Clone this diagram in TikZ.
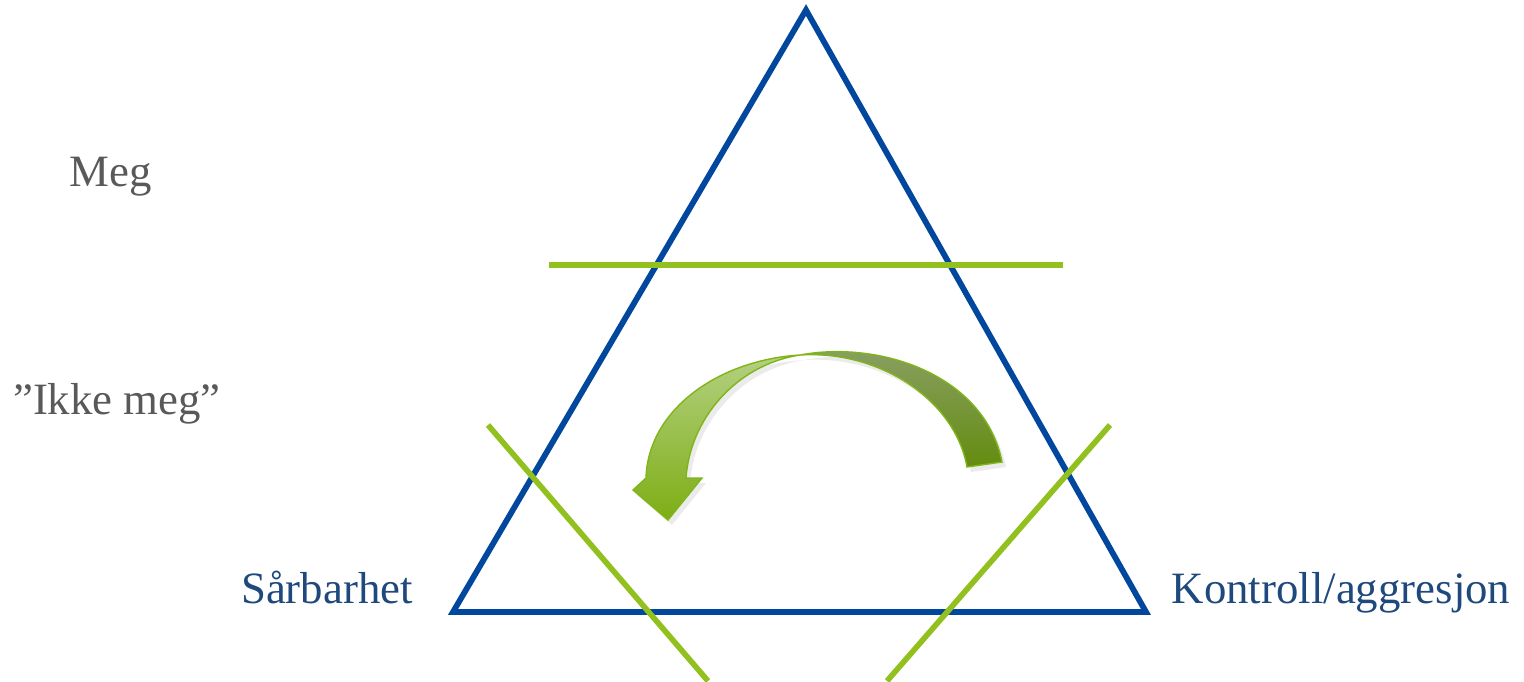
\documentclass[tikz,border=0pt]{standalone}
\usepackage{xcolor}
\usepackage{fontspec}
\setmainfont{Liberation Serif}
\usepackage{tikz}
\usetikzlibrary{calc}

\definecolor{triblue}{RGB}{0,71,157}
\definecolor{lingreen}{RGB}{146,192,31}
\definecolor{txtgrey}{RGB}{89,89,89}
\definecolor{txtblue}{RGB}{31,73,125}

\tikzset{
  side/.style={line width=3.3pt, triblue},
  cut/.style={line width=3.2pt, lingreen},
  lbl/.style={anchor=base, inner sep=0pt, font=\fontsize{25.5}{30}\selectfont},
}

\begin{document}
\begin{tikzpicture}[x=0.02cm, y=-0.02cm]
    \useasboundingbox (0,0) rectangle (1524,681);
    % triangle
    \coordinate (top) at (806,10);
    \coordinate (bl) at (453,612);
    \coordinate (br) at (1146,612);
    \draw[side, line join=miter] (bl) -- (top) -- (br) -- cycle;
    % green cuts
    \coordinate (h1) at (549,265);
    \coordinate (h2) at (1063,265);
    \coordinate (l1) at (488,425);
    \coordinate (l2) at (708,681);
    \coordinate (r1) at (1110,425);
    \coordinate (r2) at (887,681);
    \draw[cut] (h1) -- (h2);
    \draw[cut] (l1) -- (l2);
    \draw[cut] (r1) -- (r2);
    % curved arrow
    \fill[black, opacity=0.08] (804,360) .. controls (884,345) and (989,380) .. (1006,467) -- (971,472)
        .. controls (959,405) and (884,355) .. (804,360) -- cycle;
    \fill[black, opacity=0.08] (804,360) .. controls (722,365) and (652,415) .. (650,483) -- (637,495)
        -- (672,525) -- (706,483) -- (690,483) .. controls (694,425) and (739,370) .. (804,360) -- cycle;
    \shade[top color={rgb,255:red,140;green,160;blue,105}, bottom color={rgb,255:red,100;green,140;blue,15},
           draw={rgb,255:red,127;green,181;blue,27}, line width=0.8pt]
        (800,355) .. controls (880,340) and (985,375) .. (1002,462) -- (967,467)
        .. controls (955,400) and (880,350) .. (800,355) -- cycle;
    \shade[top color={rgb,255:red,180;green,208;blue,130}, bottom color={rgb,255:red,125;green,174;blue,20},
           draw={rgb,255:red,127;green,181;blue,27}, line width=0.8pt]
        (800,355) .. controls (718,360) and (648,410) .. (646,478) -- (633,490)
        -- (668,520) -- (702,478) -- (686,478) .. controls (690,420) and (735,365) .. (800,355) -- cycle;
    % labels
    \node[lbl, txtgrey] (meg) at (111,186) {Meg};
    \node[lbl, txtgrey] (ikke) at (117,414) {”Ikke meg”};
    \node[lbl, txtblue] (saar) at (327,603) {Sårbarhet};
    \node[lbl, txtblue] (kontr) at (1341,603) {Kontroll/aggresjon};
\end{tikzpicture}
\end{document}
